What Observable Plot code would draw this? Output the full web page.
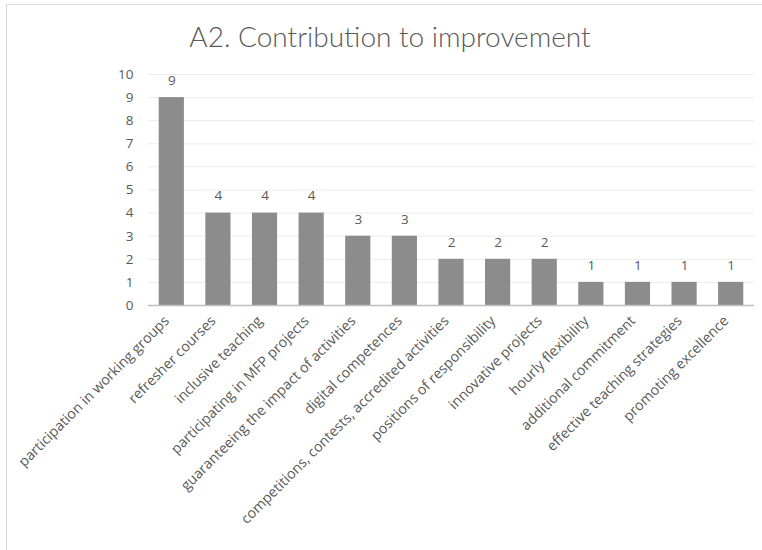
<!DOCTYPE html>
<html><head><meta charset="utf-8">
<script src="https://cdn.jsdelivr.net/npm/d3@7"></script>
<script src="https://cdn.jsdelivr.net/npm/@observablehq/plot@0.6"></script>
<style>
html,body{margin:0;padding:0;background:#fff;overflow:hidden;}
#frame{position:absolute;left:6px;top:4px;width:800px;height:600px;border:1px solid #d9d9d9;box-sizing:border-box;}
#title{position:absolute;left:0;top:19px;width:780px;text-align:center;font-family:Lato,sans-serif;font-weight:300;font-size:28px;color:#595959;}
#chart{position:absolute;left:0;top:0;}
</style></head>
<body>
<div id="frame"></div>
<div id="title">A2. Contribution to improvement</div>
<div id="chart"></div>
<script>
const categories = ["participation in working groups","refresher courses","inclusive teaching","participating in MFP projects","guaranteeing the impact of activities","digital competences","competitions, contests, accredited activities","positions of responsibility","innovative projects","hourly flexibility","additional commitment","effective teaching strategies","promoting excellence"];
const values = [9,4,4,4,3,3,2,2,2,1,1,1,1];
const yTicks = [0,1,2,3,4,5,6,7,8,9,10];
const data = categories.map((c,i)=>({category:c, value:values[i]}));

const chart = Plot.plot({
  width: 762, height: 550,
  marginLeft: 148, marginRight: 8, marginTop: 74, marginBottom: 245,
  style: {fontFamily: "'Open Sans', sans-serif", fontSize: "13.5px", color: "#595959", background: "transparent"},
  x: {domain: categories, paddingInner: 0.46, paddingOuter: 0.23, round: false, label: null},
  y: {domain: [0,10], ticks: yTicks, label: null, tickSize: 0, tickPadding: 15},
  marks: [
    Plot.gridY(yTicks.filter(d=>d>0), {stroke: "#d9d9d9", strokeOpacity: 0.5}),
    Plot.barY(data, {x: "category", y: "value", fill: "#8c8c8c"}),
    Plot.ruleY([0], {stroke: "#bfbfbf", strokeWidth: 1.5}),
    Plot.axisX({tickRotate: -45, tickSize: 0, tickPadding: 10, fontSize: 14.2, dx: -5, dy: 3, label: null, fill: "#595959"}),
    Plot.text(data, {x: "category", y: "value", text: d=>String(d.value), dy: -17, fill: "#595959", fontSize: 13.5})
  ]
});
document.getElementById("chart").appendChild(chart);
</script>
</body></html>
